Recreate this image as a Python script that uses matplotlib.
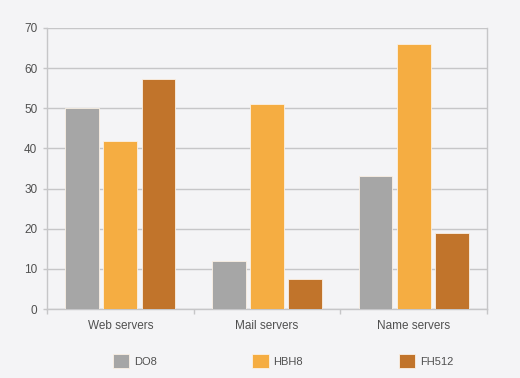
import matplotlib.pyplot as plt
import numpy as np

categories = ["Web servers", "Mail servers", "Name servers"]
series = ["DO8", "HBH8", "FH512"]
do8 = [50.0, 11.9, 33.2]
hbh8 = [41.8, 51.0, 66.0]
fh512 = [57.4, 7.4, 18.9]
colors = ["#a6a6a6", "#f5ad42", "#c1742b"]

plt.rcParams['font.family'] = ['Liberation Sans', 'DejaVu Sans']
bg = "#f4f4f6"
grid_c = "#c6c6c8"
txt_c = "#505050"

fig = plt.figure(figsize=(5.2, 3.78), dpi=100, facecolor=bg)
ax = fig.add_axes([47/520, 1 - 309/378, 440/520, 281/378], facecolor=bg)

x = np.arange(len(categories))
w = 0.23
step = 0.26
for i, (vals, name) in enumerate(zip([do8, hbh8, fh512], series)):
    ax.bar(x + (i - 1) * step, vals, w, color=colors[i], label=name,
           edgecolor="#fbf1e4", linewidth=0.6, zorder=3)

ax.set_xlim(-0.5, 2.5)
ax.set_ylim(0, 70)
ax.set_yticks(range(0, 71, 10))
ax.yaxis.grid(True, color=grid_c, linewidth=1.0, zorder=0)
ax.set_axisbelow(True)

ax.set_xticks(x)
ax.set_xticklabels(categories)
ax.set_xticks([-0.5, 0.5, 1.5, 2.5], minor=True)
ax.tick_params(axis='x', which='major', length=0, pad=8, labelsize=8.5, labelcolor=txt_c)
ax.tick_params(axis='x', which='minor', length=3.5, color=grid_c, width=1)
ax.tick_params(axis='y', length=3, color=grid_c, width=1, labelsize=8.5, labelcolor=txt_c, pad=4)

for s in ['left', 'right', 'bottom']:
    ax.spines[s].set_color(grid_c)
    ax.spines[s].set_linewidth(1.0)
ax.spines['top'].set_visible(False)

fig.legend(loc='center left', bbox_to_anchor=(112.7/520, 1 - 361/378), ncol=3,
           frameon=False, fontsize=8, handlelength=1.5, handleheight=1.5,
           handletextpad=0.4, columnspacing=8.6, borderpad=0, borderaxespad=0,
           labelcolor=txt_c)

fig.savefig("out.png", dpi=100, facecolor=bg)
